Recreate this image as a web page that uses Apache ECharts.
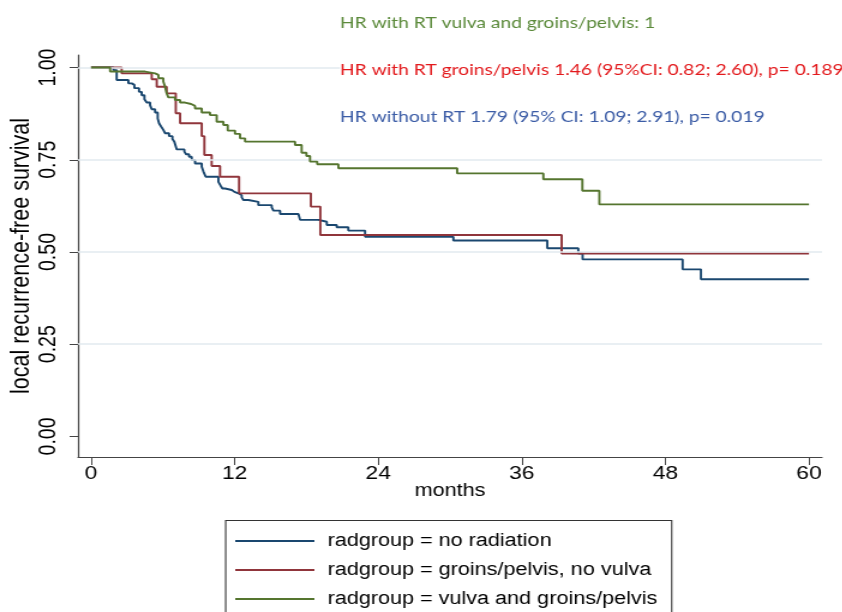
<!DOCTYPE html>
<html><head><meta charset="utf-8">
<script src="https://cdn.jsdelivr.net/npm/echarts@6/dist/echarts.min.js"></script>
<style>
html,body{margin:0;padding:0;background:#fff;overflow:hidden;width:842px;height:612px;}
#chart{width:702px;height:650px;transform:scaleX(1.2);transform-origin:0 0;}
</style></head><body><div id="chart"></div>
<script>
// ---- data ----
const xTicks = [0, 12, 24, 36, 48, 60];
const yTicks = [0, 0.25, 0.5, 0.75, 1];
const gridValues = [0.25, 0.5, 0.75, 1];
const seriesNames = [
  'radgroup = no radiation',
  'radgroup = groins/pelvis, no vulva',
  'radgroup = vulva and groins/pelvis'
];
// [months, survival] step points (value holds from that month on)
const noRadiation = [
  [0,1],[1.87,0.993],[2.14,0.966],[3.12,0.957],[3.40,0.953],[3.62,0.944],[4.01,0.934],
  [4.23,0.925],[4.46,0.914],[4.65,0.905],[4.93,0.898],[5.07,0.887],[5.35,0.878],[5.57,0.862],
  [5.68,0.849],[5.85,0.840],[6.04,0.831],[6.18,0.822],[6.52,0.814],[6.80,0.806],[6.96,0.799],
  [7.16,0.778],[7.80,0.772],[7.94,0.765],[8.19,0.758],[8.41,0.749],[8.69,0.740],[9.25,0.731],
  [9.39,0.718],[9.58,0.704],[10.64,0.690],[10.84,0.679],[10.98,0.672],[11.2,0.668],[11.76,0.663],
  [11.98,0.659],[12.31,0.654],[12.59,0.648],[12.73,0.641],[13.14,0.636],[13.98,0.627],[15.10,0.621],
  [15.24,0.612],[15.80,0.603],[17.33,0.598],[17.47,0.587],[19.00,0.582],[19.70,0.573],[20.53,0.567],
  [21.50,0.558],[22.90,0.541],[30.28,0.531],[38.13,0.510],[40.72,0.496],[41.08,0.480],
  [49.44,0.453],[50.97,0.426],[60,0.426]
];
const groinsPelvis = [
  [0,1],[2.56,0.984],[5.07,0.968],[5.49,0.948],[6.32,0.930],[7.08,0.876],[7.44,0.849],
  [9.25,0.814],[9.47,0.763],[10.08,0.733],[10.78,0.704],[12.37,0.659],[18.37,0.623],
  [19.16,0.546],[39.33,0.496],[60,0.496]
];
const vulvaGroins = [
  [0,1],[1.59,0.989],[4.51,0.984],[5.35,0.980],[5.63,0.971],[6.04,0.962],[6.18,0.948],
  [6.32,0.930],[6.46,0.919],[7.02,0.912],[7.44,0.905],[7.85,0.901],[8.36,0.896],[8.69,0.889],
  [9.25,0.878],[9.94,0.871],[10.5,0.853],[11.06,0.844],[11.42,0.829],[12.03,0.820],[12.45,0.808],
  [12.87,0.799],[17.05,0.790],[17.6,0.769],[18.0,0.760],[18.3,0.745],[18.9,0.738],[20.67,0.727],
  [30.6,0.713],[37.8,0.697],[41.06,0.666],[42.48,0.629],[60,0.629]
];
const annotations = [
  'HR with RT vulva and groins/pelvis: 1',
  'HR with RT groins/pelvis 1.46 (95%CI: 0.82; 2.60), p= 0.189',
  'HR without RT 1.79 (95% CI: 1.09; 2.91), p= 0.019'
];
const xTitle = 'months';
const yTitle = 'local recurrence-free survival';

// ---- styles ----
const colors = ['#1a476f', '#90353b', '#55752f'];
const annColors = ['#5b8a3a', '#e3191c', '#3b5ca6'];
const FONT = '"Liberation Sans", Arial, sans-serif';
const chart = echarts.init(document.getElementById('chart'), null, {renderer: 'canvas'});

const lineSeries = [noRadiation, groinsPelvis, vulvaGroins].map((d, i) => ({
  name: seriesNames[i], type: 'line', step: 'end', data: d, showSymbol: false, symbol: 'none',
  color: colors[i], lineStyle: {color: colors[i], width: 1.9}, z: 3 + i, silent: true, animation: false
}));

chart.setOption({
  animation: false,
  backgroundColor: '#fff',
  grid: {left: 65, right: 17, top: 55, bottom: 193, containLabel: false, outerBoundsMode: 'none'},
  xAxis: {
    type: 'value', min: -1.09, max: 61.09,
    name: xTitle, nameLocation: 'middle', nameGap: 25, nameMoveOverlap: false,
    nameTextStyle: {fontFamily: FONT, fontSize: 18, color: '#000'},
    axisLine: {show: true, onZero: false, lineStyle: {color: '#444', width: 1.2}},
    axisTick: {show: true, customValues: xTicks, length: 8, lineStyle: {color: '#444', width: 1}},
    axisLabel: {customValues: xTicks, fontFamily: FONT, fontSize: 19, color: '#000', margin: 7},
    splitLine: {show: false}
  },
  yAxis: {
    type: 'value', min: -0.0556, max: 1.0339,
    name: yTitle, nameLocation: 'middle', nameGap: 36, nameMoveOverlap: false,
    nameTextStyle: {fontFamily: FONT, fontSize: 21.5, color: '#000'},
    axisLine: {show: true, onZero: false, lineStyle: {color: '#444', width: 1.2}},
    axisTick: {show: true, customValues: yTicks, length: 7, lineStyle: {color: '#444', width: 1}},
    axisLabel: {customValues: yTicks, rotate: 90, fontFamily: FONT, fontSize: 19.5, color: '#000', margin: 14.5,
      formatter: v => v.toFixed(2)},
    splitLine: {show: false}
  },
  legend: {
    orient: 'vertical', left: 196, top: 531, padding: 0, itemWidth: 66, itemHeight: 2, itemGap: 9, icon: 'rect',
    data: seriesNames, selectedMode: false,
    textStyle: {fontFamily: FONT, fontSize: 18, color: '#000', lineHeight: 20, padding: [0, 0, 0, 6]}
  },
  series: [
    {type: 'line', data: [], silent: true, z: 1,
      markLine: {silent: true, symbol: 'none', label: {show: false},
        lineStyle: {color: '#e2eaef', width: 1.5, type: 'solid'},
        data: gridValues.map(v => ({yAxis: v}))}}
  ].concat(lineSeries),
  graphic: [
    {type: 'rect', left: 187.5, top: 520, z: 0,
      shape: {width: 371.7, height: 140}, style: {fill: '#fff', stroke: '#333', lineWidth: 1.1}},
  ].concat(annotations.map((t, i) => ({
    type: 'text', x: 283.3, y: [23, 70, 117][i], z: 10,
    style: {text: t, fill: annColors[i], font: '16px Lato', verticalAlign: 'middle',
      backgroundColor: i === 1 ? '#fff' : undefined}
  })))
});
</script></body></html>
